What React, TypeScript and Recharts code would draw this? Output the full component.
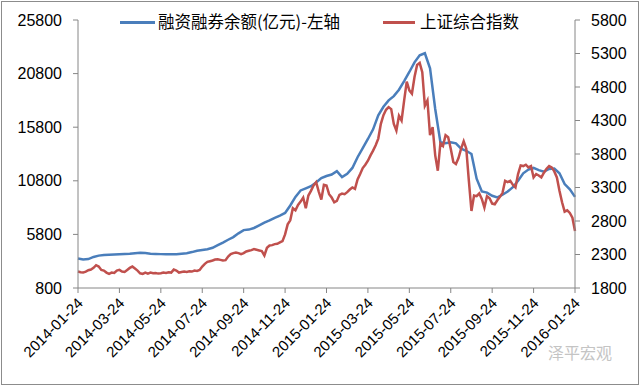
import { LineChart, Line, XAxis, YAxis, Legend } from "recharts"

// x index: 0 = 2014-01-24, 96 = 2016-01-24 (4 steps per month)
const tickLabels = [
  "2014-01-24", "2014-03-24", "2014-05-24", "2014-07-24", "2014-09-24",
  "2014-11-24", "2015-01-24", "2015-03-24", "2015-05-24", "2015-07-24",
  "2015-09-24", "2015-11-24", "2016-01-24",
]

// 融资融券余额 (亿元), left axis, 4 readings per month
const marginBalance = [
  3550, 3450, 3500, 3700, 3820, 3880, 3900, 3920, 3950, 3980,
  4000, 4050, 4080, 4060, 4000, 3980, 3960, 3950, 3940, 3950,
  4000, 4050, 4150, 4280, 4350, 4420, 4550, 4800, 5040, 5300,
  5550, 5900, 6200, 6250, 6400, 6650, 6900, 7100, 7350, 7550,
  7800, 8500, 9300, 9900, 10100, 10300, 10650, 11050, 11250, 11380,
  11700, 11150, 11450, 12000, 13000, 13850, 14700, 15600, 16900, 17700,
  18300, 18700, 19300, 20100, 20950, 21850, 22500, 22700, 21300, 17500,
  14400, 14300, 14400, 14300, 13800, 13600, 13300, 11000, 9800, 9700,
  9400, 9250, 9500, 9800, 10200, 10800, 11500, 11850, 12000, 11800,
  11650, 11900, 11950, 11500, 10500, 10000, 9300,
]

// 上证综合指数, right axis, 8 readings per month
const shIndex = [
  2045, 2035, 2030, 2045, 2065, 2075, 2100, 2140, 2120, 2070,
  2060, 2030, 2010, 2030, 2025, 2060, 2070, 2045, 2040, 2070,
  2100, 2120, 2090, 2060, 2020, 2010, 2030, 2015, 2030, 2020,
  2025, 2015, 2020, 2030, 2025, 2035, 2030, 2075, 2060, 2030,
  2040, 2045, 2040, 2050, 2045, 2060, 2055, 2070, 2120, 2160,
  2190, 2200, 2210, 2225, 2230, 2220, 2210, 2215, 2270, 2305,
  2320, 2330, 2320, 2305, 2320, 2345, 2355, 2365, 2380, 2370,
  2360, 2350, 2285, 2400, 2435, 2440, 2455, 2460, 2480, 2500,
  2600, 2750, 2810, 2990, 2960, 3040, 3090, 3150, 2990, 3180,
  3250, 3330, 3380, 3240, 3120, 3340, 3330, 3200, 3150, 3080,
  3100, 3190, 3210, 3200, 3230, 3270, 3300, 3280, 3420, 3500,
  3590, 3640, 3700, 3780, 3850, 3930, 4030, 4250, 4380, 4460,
  4500, 4470, 4250, 4150, 4370, 4300, 4600, 4880, 4750, 4700,
  4950, 5130, 5160, 5020, 4520, 4600, 4080, 4200, 3780, 3550,
  3960, 3920, 4080, 4050, 3880, 3680, 3650, 3740, 3880, 3990,
  3880, 3400, 2950, 3180, 3170, 3210, 3130, 3000, 3170, 3140,
  3060, 3050, 3110, 3160, 3220, 3400, 3380, 3400, 3340, 3300,
  3500, 3630, 3620, 3640, 3600, 3620, 3450, 3500, 3480, 3450,
  3520, 3580, 3620, 3600, 3540, 3450, 3250, 3080, 2940, 2960,
  2920, 2850, 2650,
]

const leftTicks = [800, 5800, 10800, 15800, 20800, 25800]
const rightTicks = [1800, 2300, 2800, 3300, 3800, 4300, 4800, 5300, 5800]

const balanceRows = marginBalance.map((v, i) => ({ i, balance: v }))
const indexRows = shIndex.map((v, k) => ({ i: k / 2, sh: v }))
const xTicks = tickLabels.map((_, k) => k * 8)

const BLUE = "#4a7ebb"
const RED = "#c0504d"
const AXIS = "#868686"
const FONT = '"Liberation Sans", Arial, sans-serif'
const CJK = '"Noto Sans CJK SC", sans-serif'

const AngledTick = (props: any) => {
  const { x, y, payload } = props
  const ax = x + 6
  const ay = y + 11
  return (
    <text
      x={ax}
      y={ay}
      transform={`rotate(-45 ${ax} ${ay})`}
      textAnchor="end"
      fontSize={15}
      fontFamily={FONT}
      fill="#000"
    >
      {tickLabels[payload.value / 8]}
    </text>
  )
}

const LegendBox = () => (
  <div style={{ position: "relative", width: 640, height: 26, fontFamily: CJK, fontSize: 16.5, color: "#000" }}>
    <span style={{ position: "absolute", left: 120, top: 12, width: 35, height: 3, background: BLUE }} />
    <span style={{ position: "absolute", left: 158, top: 0, whiteSpace: "nowrap" }}>融资融券余额(亿元)-左轴</span>
    <span style={{ position: "absolute", left: 383, top: 12, width: 32, height: 3, background: RED }} />
    <span style={{ position: "absolute", left: 420, top: 0, whiteSpace: "nowrap" }}>上证综合指数</span>
  </div>
)

export default function App() {
  return (
    <div style={{ position: "absolute", left: 0, top: 0, width: 640, height: 385, background: "#fff" }}>
      <LineChart width={640} height={385} margin={{ top: 20, right: 0, bottom: 0, left: 0 }}>
        <XAxis
          dataKey="i"
          type="number"
          domain={[0, 96]}
          ticks={xTicks}
          interval={0}
          height={97}
          tickSize={5}
          tickMargin={0}
          axisLine={{ stroke: AXIS }}
          tickLine={{ stroke: AXIS }}
          tick={<AngledTick />}
          allowDuplicatedCategory={false}
        />
        <YAxis
          yAxisId="left"
          width={78}
          domain={[800, 25800]}
          ticks={leftTicks}
          interval={0}
          tickSize={5}
          tickMargin={11}
          axisLine={{ stroke: AXIS }}
          tickLine={{ stroke: AXIS }}
          tick={{ fontSize: 16, fill: "#000", fontFamily: FONT }}
        />
        <YAxis
          yAxisId="right"
          orientation="right"
          width={65}
          domain={[1800, 5800]}
          ticks={rightTicks}
          interval={0}
          tickSize={5}
          tickMargin={11}
          axisLine={{ stroke: AXIS }}
          tickLine={{ stroke: AXIS }}
          tick={{ fontSize: 16, fill: "#000", fontFamily: FONT }}
        />
        <Legend
          content={<LegendBox />}
          layout="horizontal"
          verticalAlign="middle"
          align="center"
          wrapperStyle={{ top: 9, left: 0, width: 640, height: 26 }}
        />
        <Line
          yAxisId="left"
          data={balanceRows}
          type="linear"
          dataKey="balance"
          stroke={BLUE}
          strokeWidth={2.5}
          dot={false}
          isAnimationActive={false}
        />
        <Line
          yAxisId="right"
          data={indexRows}
          type="linear"
          dataKey="sh"
          stroke={RED}
          strokeWidth={2.5}
          dot={false}
          isAnimationActive={false}
        />
      </LineChart>
      <div
        style={{
          position: "absolute",
          left: 548,
          top: 340,
          fontFamily: CJK,
          fontSize: 16,
          color: "#c4c4c4",
        }}
      >
        泽平宏观
      </div>
      <div
        style={{
          position: "absolute",
          left: 1,
          top: 1,
          width: 636,
          height: 382,
          border: "1px solid #8c8c8c",
          pointerEvents: "none",
        }}
      />
    </div>
  )
}
